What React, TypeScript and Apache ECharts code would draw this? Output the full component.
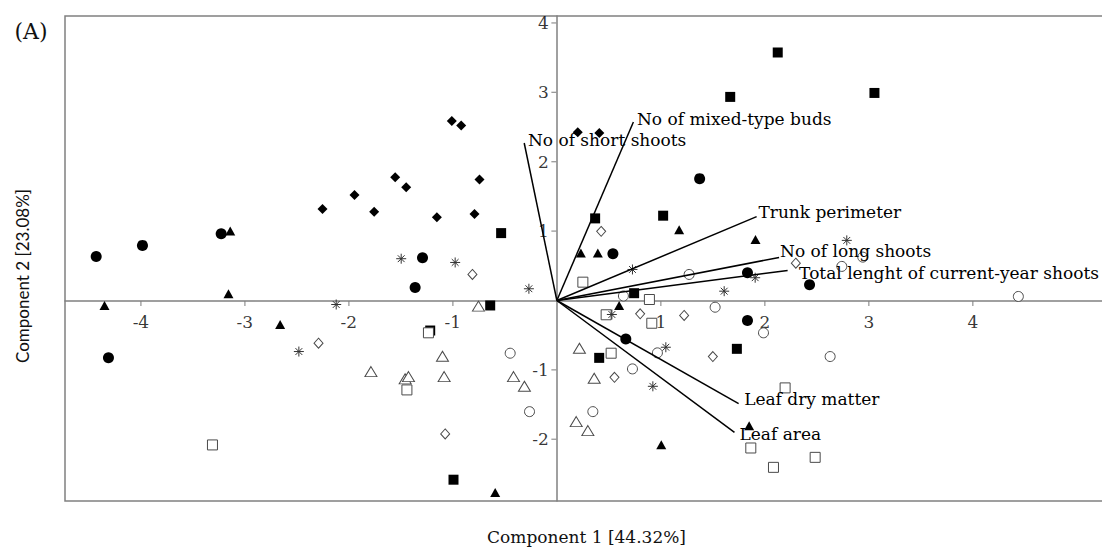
import { useEffect, useRef } from "react";
import * as echarts from "echarts";

// PCA scores (Component 1, Component 2) per group
const filledCircles: number[][] = [
  [-4.43, 0.635], [-3.985, 0.794], [-3.228, 0.962], [-4.312, -0.827], [-1.292, 0.616], [-1.363, 0.188],
  [1.373, 1.756], [0.539, 0.674], [1.833, 0.4], [2.43, 0.227], [1.833, -0.289], [0.663, -0.554],
];
const filledSquares: number[][] = [
  [2.124, 3.574], [1.667, 2.934], [3.054, 2.991], [0.368, 1.183], [1.022, 1.222], [-0.536, 0.971],
  [-0.641, -0.072], [-1.218, -0.433], [-0.994, -2.583], [0.743, 0.105], [0.407, -0.827], [1.731, -0.697],
];
const filledTriangles: number[][] = [
  [-3.141, 1.0], [-3.158, 0.097], [-4.35, -0.072], [-2.661, -0.346], [0.231, 0.683], [0.394, 0.683],
  [1.176, 1.02], [1.91, 0.88], [0.599, -0.072], [1.849, -1.804], [1.004, -2.078], [-0.593, -2.766],
];
const filledDiamonds: number[][] = [
  [-1.01, 2.587], [-0.92, 2.521], [-1.555, 1.775], [-1.449, 1.631], [-0.744, 1.742], [-1.946, 1.519],
  [-2.254, 1.317], [-1.757, 1.28], [-1.154, 1.198], [-0.792, 1.245], [0.201, 2.424], [0.408, 2.414],
];
const openCircles: number[][] = [
  [-0.449, -0.76], [-0.263, -1.602], [1.272, 0.375], [0.64, 0.065], [1.522, -0.097], [1.987, -0.466],
  [0.967, -0.755], [0.727, -0.986], [0.346, -1.602], [2.628, -0.808], [4.438, 0.058], [2.74, 0.491], [2.942, 0.625],
];
const openSquares: number[][] = [
  [0.25, 0.264], [0.89, 0.014], [0.913, -0.328], [0.474, -0.206], [0.522, -0.76], [2.195, -1.26],
  [1.865, -2.126], [2.083, -2.405], [2.484, -2.261], [-1.235, -0.466], [-1.442, -1.289], [-3.312, -2.082],
];
const openTriangles: number[][] = [
  [-0.754, -0.082], [-1.1, -0.804], [-1.788, -1.025], [-1.459, -1.13], [-1.427, -1.097], [-1.084, -1.097],
  [-0.417, -1.097], [-0.312, -1.237], [0.217, -0.688], [0.359, -1.121], [0.186, -1.746], [0.298, -1.876],
];
const openDiamonds: number[][] = [
  [-0.812, 0.375], [-2.292, -0.616], [-1.074, -1.924], [0.426, 0.996], [2.298, 0.538], [0.801, -0.192],
  [1.224, -0.216], [1.5, -0.808], [0.554, -1.107],
];
const asterisks: number[][] = [
  [-1.497, 0.602], [-0.978, 0.548], [-0.269, 0.169], [-2.122, -0.058], [-2.481, -0.736], [0.727, 0.447],
  [1.609, 0.134], [1.907, 0.328], [0.529, -0.202], [1.048, -0.674], [0.923, -1.237], [2.788, 0.866],
];

// Variable loadings (vectors)
const loadingNames = [
  "No of short shoots",
  "No of mixed-type buds",
  "Trunk perimeter",
  "No of long shoots",
  "Total lenght of current-year shoots",
  "Leaf dry matter",
  "Leaf area",
];
const loadingX = [-0.314, 0.736, 1.921, 2.137, 2.219, 1.748, 1.708];
const loadingY = [2.27, 2.573, 1.208, 0.62, 0.433, -1.486, -1.9];

const xTicks = [-4, -3, -2, -1, 1, 2, 3, 4];
const yTicks = [-2, -1, 1, 2, 3, 4];

const xTitle = "Component 1 [44.32%]";
const yTitle = "Component 2 [23.08%]";
const panelTag = "(A)";

// label placement (styling only)
const labelOffsets = [
  [3.7, -2.7], [3.6, -3.4], [1.8, -4.6], [1, -6], [11.5, 3], [5.5, -4.7], [5, 1.6],
];

const SERIF = '"DejaVu Serif", serif';
const ASTERISK = "path://M5,0L5,10M0,5L10,5M1.6,1.6L8.4,8.4M8.4,1.6L1.6,8.4";

export default function App() {
  const ref = useRef<HTMLDivElement>(null);
  useEffect(() => {
    if (!ref.current) return;
    const chart = echarts.init(ref.current, undefined, { renderer: "svg" });

    const open = "#4a4a4a";
    const axisGray = "#808080";
    const groups = [
      { data: filledCircles, symbol: "circle", size: 11, fill: "#000", stroke: "#000", bw: 0 },
      { data: filledSquares, symbol: "rect", size: 10, fill: "#000", stroke: "#000", bw: 0 },
      { data: filledTriangles, symbol: "triangle", size: [10, 9], fill: "#000", stroke: "#000", bw: 0 },
      { data: filledDiamonds, symbol: "diamond", size: [10, 10], fill: "#000", stroke: "#000", bw: 0 },
      { data: openCircles, symbol: "circle", size: 10, fill: "#fff", stroke: open, bw: 1 },
      { data: openSquares, symbol: "rect", size: 10, fill: "#fff", stroke: open, bw: 1 },
      { data: openTriangles, symbol: "triangle", size: [12, 10], fill: "#fff", stroke: open, bw: 1 },
      { data: openDiamonds, symbol: "diamond", size: [9, 10], fill: "#fff", stroke: open, bw: 1 },
      { data: asterisks, symbol: ASTERISK, size: 10, fill: "none", stroke: "#333", bw: 1 },
    ];

    const scatterSeries = groups.map((g) => ({
      type: "scatter",
      data: g.data,
      symbol: g.symbol,
      symbolSize: g.size,
      itemStyle: { color: g.fill, borderColor: g.stroke, borderWidth: g.bw, opacity: 1 },
      z: 2,
      silent: true,
    }));

    const vectorSeries = loadingNames.map((n, i) => ({
      type: "line",
      data: [
        [0, 0],
        [loadingX[i], loadingY[i]],
      ],
      symbol: "none",
      lineStyle: { color: "#000", width: 1.5 },
      z: 3,
      silent: true,
      endLabel: {
        show: true,
        formatter: n,
        color: "#000",
        fontFamily: SERIF,
        fontSize: 17,
        distance: 0,
        offset: labelOffsets[i],
        align: "left",
        verticalAlign: "middle",
      },
    }));

    // tick marks + tick labels placed on the zero lines through the axes' scales
    const tickFont = { color: "#000", fontFamily: SERIF, fontSize: 17 };
    const xTickSeries = {
      type: "scatter",
      data: xTicks.map((t) => [t, 0]),
      symbol: "rect",
      symbolSize: [1.3, 5],
      symbolOffset: [0, 3],
      itemStyle: { color: axisGray },
      label: {
        show: true,
        position: "inside",
        offset: [0, 19],
        formatter: (p: any) => String(p.value[0]),
        ...tickFont,
      },
      z: 1,
      silent: true,
    };
    const yTickSeries = {
      type: "scatter",
      data: yTicks.map((t) => [0, t]),
      symbol: "rect",
      symbolSize: [5, 1.3],
      symbolOffset: [-3, 0],
      itemStyle: { color: axisGray },
      label: {
        show: true,
        position: "left",
        distance: 2.5,
        formatter: (p: any) => String(p.value[1]),
        ...tickFont,
      },
      z: 1,
      silent: true,
    };

    chart.setOption({
      animation: false,
      backgroundColor: "#fff",
      grid: {
        left: 65,
        top: 16,
        right: -6,
        bottom: 46,
        show: true,
        borderColor: axisGray,
        borderWidth: 1.5,
        backgroundColor: "transparent",
        containLabel: false,
        outerBoundsMode: "none",
      },
      xAxis: {
        type: "value",
        min: -4.73,
        max: 5.3,
        axisLine: { show: true, onZero: true, lineStyle: { color: axisGray, width: 1.5 } },
        axisTick: { show: false },
        axisLabel: { show: false },
        splitLine: { show: false },
      },
      yAxis: {
        type: "value",
        min: -2.89,
        max: 4.1,
        axisLine: { show: true, onZero: true, lineStyle: { color: axisGray, width: 1.5 } },
        axisTick: { show: false },
        axisLabel: { show: false },
        splitLine: { show: false },
      },
      graphic: [
        {
          type: "text",
          x: 31,
          y: 31,
          style: { text: panelTag, font: `22px ${SERIF}`, fill: "#111", align: "center", verticalAlign: "middle" },
        },
        {
          type: "text",
          x: 586.5,
          y: 537,
          style: { text: xTitle, font: `17px ${SERIF}`, fill: "#111", align: "center", verticalAlign: "middle" },
        },
        {
          type: "text",
          x: 22.5,
          y: 276,
          rotation: Math.PI / 2,
          style: { text: yTitle, font: "17px Lato, sans-serif", fill: "#111", align: "center", verticalAlign: "middle" },
        },
      ],
      series: [xTickSeries, yTickSeries, ...scatterSeries, ...vectorSeries],
    });

    return () => chart.dispose();
  }, []);

  return (
    <div
      ref={ref}
      style={{ position: "fixed", left: 0, top: 0, width: 1102, height: 547, background: "#fff" }}
    />
  );
}
